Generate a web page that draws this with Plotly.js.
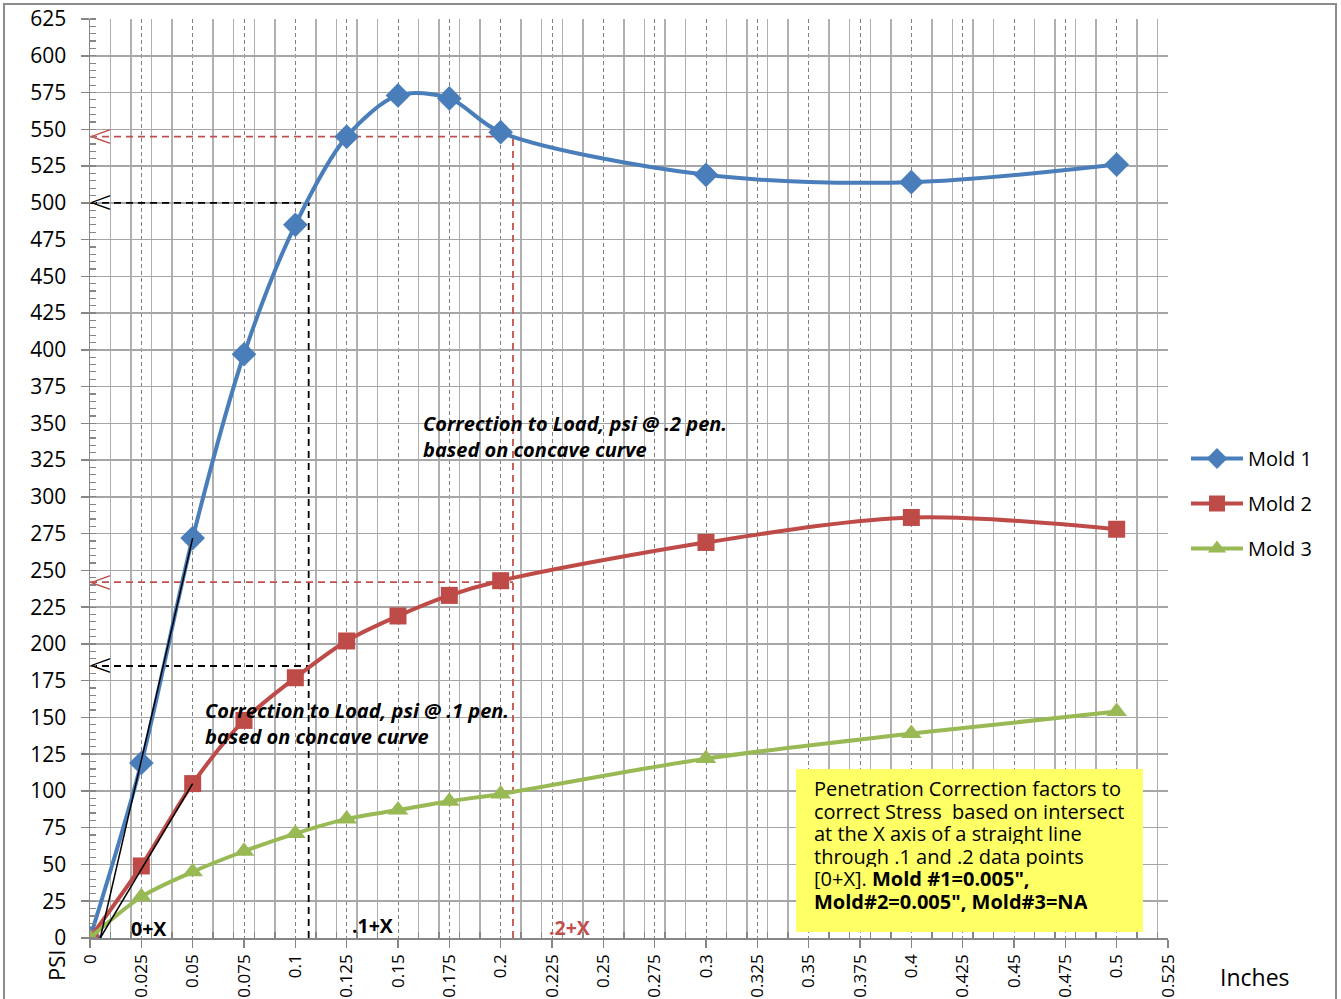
<!DOCTYPE html>
<html>
<head>
<meta charset="utf-8">
<script src="https://cdn.plot.ly/plotly-3.0.1.min.js"></script>
<style>
  html, body { margin: 0; padding: 0; background: #fff; }
  #chart { width: 1341px; height: 999px; }
  #frame { position: absolute; left: 3px; top: 3px; width: 1334px; height: 1010px;
           border: 2px solid #8c8c8c; pointer-events: none; box-sizing: border-box; }
</style>
</head>
<body>
<div id="chart"></div>
<div id="frame"></div>
<script>
// ---- data ----
const penetration = [0, 0.025, 0.05, 0.075, 0.1, 0.125, 0.15, 0.175, 0.2, 0.3, 0.4, 0.5];
const mold1 = [0, 119, 272, 397, 485, 545, 573, 571, 548, 519, 514, 526];
const mold2 = [0, 49, 105, 148, 177, 202, 219, 233, 243, 269, 286, 278];
const mold3 = [0, 28, 45, 59, 71, 81, 87, 93, 98, 122, 139, 154];
const seriesNames = ["Mold 1", "Mold 2", "Mold 3"];

// correction construction lines
const corr1X = 0.1065;            // .1 pen + X
const corr1Loads = [500, 185];    // black dashed
const corr2X = 0.206;             // .2 pen + X
const corr2Loads = [545, 242];    // red dashed
const tangentX = [0.005, 0.05];
const tangent1Y = [0, 272];
const tangent2Y = [0, 105];

// ---- styles ----
const BLUE = "#4A7EBB", RED = "#BE4B48", GREEN = "#98B954";
const FONT = "Open Sans";

// pixel helpers for annotation placement (plot area 90..1168, 19..938)
const X0 = 90, X1 = 1168, Y0 = 938, Y1 = 19, XMAX = 0.525, YMAX = 625;
const px = p => (p - X0) / (X1 - X0) * XMAX;
const py = p => (Y0 - p) / (Y0 - Y1) * YMAX;
const ppx = p => (p - X0) / (X1 - X0);
const ppy = p => (Y0 - p) / (Y0 - Y1);

// minor vertical grid every 0.01 (skipping the 0.025 majors)
const minorGridX = [];
for (let k = 1; k * 0.01 < XMAX; k++) {
  const v = +(k * 0.01).toFixed(3);
  if (Math.abs(v / 0.025 - Math.round(v / 0.025)) > 1e-6) minorGridX.push(v);
}

const traces = [];
const dashBlack = { color: "#000", width: 1.8, dash: "7px,5px" };
const dashRed = { color: "#C0504D", width: 1.8, dash: "7px,5px" };
corr1Loads.forEach(L => traces.push({ x: [0, corr1X], y: [L, L], mode: "lines", line: dashBlack, showlegend: false, hoverinfo: "skip" }));
traces.push({ x: [corr1X, corr1X], y: [0, Math.max(...corr1Loads)], mode: "lines", line: dashBlack, showlegend: false, hoverinfo: "skip" });
corr2Loads.forEach(L => traces.push({ x: [0, corr2X], y: [L, L], mode: "lines", line: dashRed, showlegend: false, hoverinfo: "skip" }));
traces.push({ x: [corr2X, corr2X], y: [0, Math.max(...corr2Loads)], mode: "lines", line: dashRed, showlegend: false, hoverinfo: "skip" });

const molds = [mold1, mold2, mold3];
const colors = [BLUE, RED, GREEN];
const symbols = ["diamond", "square", "triangle-up"];
const sizes = [19, 17, 18];
molds.forEach((m, i) => traces.push({
  x: penetration, y: m, name: seriesNames[i], legendgroup: "g" + i,
  mode: "lines+markers",
  line: { color: colors[i], width: 4, shape: "spline", smoothing: 0.9 },
  marker: { color: colors[i], symbol: symbols[i], size: sizes[i], line: { width: 0 } }
}));

traces.push({ x: tangentX, y: tangent1Y, mode: "lines", line: { color: "#000", width: 1.5 }, showlegend: false, hoverinfo: "skip" });
traces.push({ x: tangentX, y: tangent2Y, mode: "lines", line: { color: "#000", width: 1.5 }, showlegend: false, hoverinfo: "skip" });

const annotations = [];
// open arrow heads
const chev = c => ({ family: "DejaVu Sans", size: 30, color: c, weight: 200 });
corr1Loads.forEach(L => annotations.push({ x: 0, y: L, xref: "x", yref: "y", text: "<", showarrow: false,
  xanchor: "left", yanchor: "middle", xshift: -4, yshift: 1, font: chev("#000") }));
corr2Loads.forEach(L => annotations.push({ x: 0, y: L, xref: "x", yref: "y", text: "<", showarrow: false,
  xanchor: "left", yanchor: "middle", xshift: -4, yshift: 1, font: chev("#C0504D") }));

const ital = { family: FONT, size: 20, color: "#000" };
annotations.push({ x: px(421), y: py(436), text: "<b><i>Correction to Load, psi @ .2 pen.<br>based on concave curve</i></b>",
  showarrow: false, xanchor: "left", yanchor: "middle", align: "left", font: ital });
annotations.push({ x: px(203), y: py(723), text: "<b><i>Correction to Load, psi @ .1 pen.<br>based on concave curve</i></b>",
  showarrow: false, xanchor: "left", yanchor: "middle", align: "left", font: ital });
const lbl = c => ({ family: FONT, size: 19.5, color: c });
annotations.push({ x: px(129), y: py(928), text: "<b>0+X</b>", showarrow: false, xanchor: "left", yanchor: "middle", font: lbl("#000") });
annotations.push({ x: px(350), y: py(925), text: "<b>.1+X</b>", showarrow: false, xanchor: "left", yanchor: "middle", font: lbl("#000") });
annotations.push({ x: px(547), y: py(927), text: "<b>.2+X</b>", showarrow: false, xanchor: "left", yanchor: "middle", font: lbl("#C0504D") });

const boxLines = [
  "Penetration Correction factors to",
  "correct Stress  based on intersect",
  "at the X axis of a straight line",
  "through .1 and .2 data points",
  "[0+X]. <b>Mold #1=0.005\",</b>",
  "<b>Mold#2=0.005\", Mold#3=NA</b>"
];
const boxLineY = [788, 811, 833, 856, 878, 901];
boxLines.forEach((t, i) => annotations.push({ x: px(813), y: py(boxLineY[i]), text: t, showarrow: false,
  xanchor: "left", yanchor: "middle", align: "left", height: 22, valign: "middle", borderpad: 0,
  font: { family: FONT, size: 20, color: "#000" } }));

annotations.push({ xref: "paper", yref: "paper", x: ppx(56), y: ppy(966), text: "PSI", textangle: -90, showarrow: false,
  xanchor: "center", yanchor: "middle", font: { family: FONT, size: 22, color: "#000" } });
annotations.push({ xref: "paper", yref: "paper", x: ppx(1255), y: ppy(977), text: "Inches", showarrow: false,
  xanchor: "center", yanchor: "middle", font: { family: FONT, size: 23, color: "#000" } });

const layout = {
  width: 1341, height: 999, autosize: false,
  margin: { l: 90, r: 173, t: 19, b: 61 },
  paper_bgcolor: "#fff", plot_bgcolor: "#fff",
  font: { family: FONT, color: "#000" },
  showlegend: true,
  legend: { x: ppx(1186), y: ppy(439), xanchor: "left", yanchor: "top", traceorder: "grouped", tracegroupgap: 16,
    font: { family: FONT, size: 20, color: "#000" }, bgcolor: "rgba(0,0,0,0)", itemwidth: 52 },
  xaxis: {
    range: [0, XMAX], tick0: 0, dtick: 0.025, tickangle: -90,
    tickfont: { family: FONT, size: 17, color: "#000" },
    showline: true, linecolor: "#868686", linewidth: 1.5,
    ticks: "outside", ticklen: 8, tickcolor: "#868686", tickwidth: 1.5,
    showgrid: true, gridcolor: "#808080", gridwidth: 1, griddash: "4px,3px",
    zeroline: false,
    minor: { tickmode: "array", tickvals: minorGridX, ticks: "inside", ticklen: 6, tickcolor: "#868686", tickwidth: 1.5,
      showgrid: true, gridcolor: "#b0b0b0", gridwidth: 1.5, griddash: "solid" }
  },
  yaxis: {
    range: [0, YMAX], tick0: 0, dtick: 25,
    tickfont: { family: FONT, size: 21, color: "#000" }, ticklabelstandoff: 10,
    showline: true, linecolor: "#868686", linewidth: 1.5,
    ticks: "outside", ticklen: 8, tickcolor: "#868686", tickwidth: 1.5,
    showgrid: true, gridcolor: "#a6a6a6", gridwidth: 1.5,
    zeroline: false,
    minor: { dtick: 5, ticks: "inside", ticklen: 6, tickcolor: "#868686", tickwidth: 1.2, showgrid: false }
  },
  shapes: [{
    type: "rect", xref: "x", yref: "y", x0: px(796), x1: px(1143), y0: py(932), y1: py(769),
    fillcolor: "#FFFF66", line: { width: 0 }, layer: "above"
  }],
  annotations: annotations
};

Plotly.newPlot("chart", traces, layout, { staticPlot: true, displayModeBar: false });
</script>
</body>
</html>
